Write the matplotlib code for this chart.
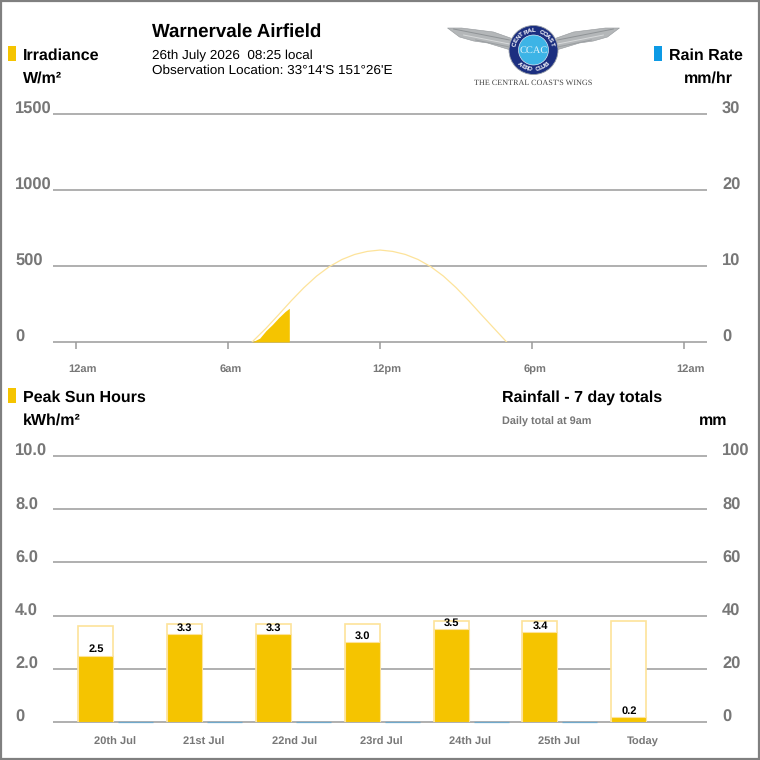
import numpy as np
import matplotlib
matplotlib.use('Agg')
import matplotlib.pyplot as plt
import matplotlib.patches as patches
import matplotlib.transforms as transforms

plt.rcParams['font.family'] = ['Liberation Sans', 'DejaVu Sans']
plt.rcParams['text.hinting'] = 'no_hinting'

YELLOW = '#f5c400'
PALE = '#fde39a'
BLUE = '#0d9ae5'
GREY = '#777777'
LINE = '#9a9a9a'

# irradiance, hours of the day against W/m2
clear_hours = [6.95, 7.5, 8.0, 8.5, 9.0, 9.5, 10.0, 10.5, 11.0, 11.5, 12.0, 12.5,
               13.0, 13.5, 14.0, 14.5, 15.0, 15.5, 16.0, 16.5, 17.0]
clear_wm2 = [0, 90, 180, 272, 358, 434, 496, 543, 576, 596, 605, 596,
             576, 543, 496, 434, 358, 272, 180, 90, 0]
now_hours = [6.95, 7.25, 7.5, 7.75, 8.0, 8.25, 8.42]
now_wm2 = [0, 25, 75, 115, 160, 200, 222]
hour_ticks = [0, 6, 12, 18, 24]
hour_labels = ['12am', '6am', '12pm', '6pm', '12am']
wm2_ticks = [0, 500, 1000, 1500]
rate_ticks = [0, 10, 20, 30]

# seven day totals, today has no rain figure yet
days = ['20th Jul', '21st Jul', '22nd Jul', '23rd Jul', '24th Jul', '25th Jul', 'Today']
sun_hours = [2.5, 3.3, 3.3, 3.0, 3.5, 3.4, 0.2]
clear_sun_hours = [3.6, 3.7, 3.7, 3.7, 3.8, 3.8, 3.8]
rain_mm = [0, 0, 0, 0, 0, 0, np.nan]
sun_ticks = [0, 2, 4, 6, 8, 10]
sun_tick_labels = ['0', '2.0', '4.0', '6.0', '8.0', '10.0']
mm_ticks = [0, 20, 40, 60, 80, 100]

W = 760
fig = plt.figure(figsize=(7.6, 7.6), dpi=100)


def px_axes(left, top, right, bottom):
    return fig.add_axes([left / W, 1 - bottom / W, (right - left) / W, (bottom - top) / W])


def shift(labels, dx, dy):
    for lab in labels:
        lab.set_transform(lab.get_transform() + transforms.Affine2D().translate(dx, dy))


def style_axes(ax, yticks, ylabels, ylim):
    ax.set_ylim(*ylim)
    ax.set_yticks(yticks, ylabels)
    ax.tick_params(axis='y', length=0, pad=0, labelsize=11.9, labelcolor=GREY)
    for lab in ax.get_yticklabels():
        lab.set_fontweight('bold')
        lab.set_ha('left')
    shift(ax.get_yticklabels(), -38, 6)
    ax.grid(axis='y', color=LINE, lw=1.1)
    for g in ax.get_ygridlines():
        g.set_clip_on(False)
        g.set_solid_capstyle('butt')
    ax.set_axisbelow(True)
    for s in ax.spines.values():
        s.set_visible(False)
    ax.patch.set_alpha(0)


def right_axis(ax, ticks, ylim):
    ax2 = ax.twinx()
    ax2.set_ylim(*ylim)
    ax2.set_yticks(ticks, [str(t) for t in ticks])
    ax2.tick_params(axis='y', length=0, pad=10.8, labelsize=11.9, labelcolor=GREY)
    for lab in ax2.get_yticklabels():
        lab.set_fontweight('bold')
    shift(ax2.get_yticklabels(), 0, 6)
    for s in ax2.spines.values():
        s.set_visible(False)
    ax2.patch.set_alpha(0)
    return ax2


# top chart
ax1 = px_axes(53, 114, 707, 342)
style_axes(ax1, wm2_ticks, [str(t) for t in wm2_ticks], (0, 1500))
ax1.set_xlim((53 - 76) / 25.333, (707 - 76) / 25.333)
ax1.fill_between(now_hours, now_wm2, 0, color=YELLOW, lw=0, zorder=3)
ax1.plot(clear_hours, clear_wm2, color=PALE, lw=0.9, zorder=4)
ax1.set_xticks(hour_ticks, hour_labels)
ax1.tick_params(axis='x', length=5, width=1.1, color=LINE, pad=11, labelsize=8, labelcolor=GREY)
for lab in ax1.get_xticklabels():
    lab.set_fontweight('bold')
    lab.set_ha('left')
shift(ax1.get_xticklabels(), -8, 0)
right_axis(ax1, rate_ticks, (0, 30))

# bottom chart
ax3 = px_axes(53, 456, 707, 722)
style_axes(ax3, sun_ticks, sun_tick_labels, (0, 10))
ax3.set_xlim((53 - 96) / 88.8, (707 - 96) / 88.8)
idx = np.arange(len(days))
bar_w = 35 / 88.8
ax3.bar(idx, clear_sun_hours, bar_w, facecolor='white', edgecolor=PALE, lw=1.2, zorder=3)
ax3.bar(idx, sun_hours, bar_w, facecolor=YELLOW, edgecolor=PALE, lw=0.8, zorder=4)
ax3.bar(idx + 40 / 88.8, rain_mm, bar_w, edgecolor='#6fa9cc', lw=0.9, zorder=4, clip_on=False)
for i, v in zip(idx, sun_hours):
    ax3.annotate(f'{v:.1f}', (i, v), xytext=(0, 0.6), textcoords='offset points', ha='center',
                 va='bottom', fontsize=8, fontweight='bold', color='black', zorder=6)
ax3.set_xticks(idx, days)
ax3.tick_params(axis='x', length=0, pad=16.5, labelsize=8, labelcolor=GREY)
for lab in ax3.get_xticklabels():
    lab.set_fontweight('bold')
    lab.set_ha('left')
    lab.set_va('baseline')
shift(ax3.get_xticklabels(), -2, 0)
right_axis(ax3, mm_ticks, (0, 100))

# everything else goes on a full page layer in pixel coordinates
page = fig.add_axes([0, 0, 1, 1], zorder=10)
page.set_xlim(0, W)
page.set_ylim(W, 0)
page.axis('off')
page.patch.set_alpha(0)
page.add_patch(patches.Rectangle((1, 1), W - 2, W - 2, fill=False, edgecolor='#808080', lw=1.6))


def label(x, y, s, size=11.5, weight='bold', color='black', **kw):
    page.text(x, y, s, fontsize=size, fontweight=weight, color=color, va='center', **kw)


page.add_patch(patches.Rectangle((8, 46), 8, 15, color=YELLOW, lw=0))
page.add_patch(patches.Rectangle((654, 46), 8, 15, color=BLUE, lw=0))
page.add_patch(patches.Rectangle((8, 388), 8, 15, color=YELLOW, lw=0))
label(23, 55.5, 'Irradiance')
label(23, 78.5, 'W/m²')
label(152, 32, 'Warnervale Airfield', size=13.5)
label(152, 56, '26th July 2026  08:25 local', size=9.7, weight='normal')
label(152, 71, "Observation Location: 33°14'S 151°26'E", size=9.7, weight='normal')
label(669, 55.5, 'Rain Rate')
label(684, 78.5, 'mm/hr')
label(23, 397.5, 'Peak Sun Hours')
label(23, 421, 'kWh/m²')
label(502, 397.5, 'Rainfall - 7 day totals')
label(502, 422, 'Daily total at 9am', size=7.8, color=GREY)
label(699, 421, 'mm')

# club badge: wings, roundel and strapline
cx, cy = 533.5, 50
for side in (-1, 1):
    wing = [(cx + side * x, cy + y) for x, y in
            [(23, -12), (40, -18), (56, -20), (72, -22), (86, -22), (74, -13), (60, -9), (46, -7), (23, 0)]]
    page.add_patch(patches.Polygon(wing, closed=True, facecolor='#b4b7b9', edgecolor='#94989b', lw=0.4))
    for x0, y0, x1, y1, shade in [(24, -10, 80, -21, '#8f9396'), (24, -6, 70, -15, '#d8dadb'),
                                  (24, -3, 58, -10, '#9a9ea1')]:
        page.plot([cx + side * x0, cx + side * x1], [cy + y0, cy + y1], color=shade, lw=0.7,
                  solid_capstyle='round')
page.add_patch(patches.Circle((cx, cy), 24.5, facecolor='#1c2f80', edgecolor='#9aa0a8', lw=0.6))
page.add_patch(patches.Circle((cx, cy), 15, facecolor='#3db4e6', edgecolor='white', lw=0.4))
page.text(cx, cy + 0.5, 'CCAC', fontsize=7.5, color='#dff3fb', ha='center', va='center',
          family='Liberation Serif')


def arc_text(s, radius, start, step, flip=False):
    for i, ch in enumerate(s):
        ang = np.radians(start + i * step)
        x = cx + radius * np.sin(ang)
        y = cy - radius * np.cos(ang)
        rot = -np.degrees(ang) + (180 if flip else 0)
        page.text(x, y, ch, fontsize=4.5, fontweight='bold', color='white', ha='center', va='center',
                  rotation=rot, rotation_mode='anchor')


arc_text('CENTRAL COAST', 19.5, -72, 12)
arc_text('AERO CLUB', 19.5, 224, -11, flip=True)
page.text(533.5, 83, "The Central Coast's Wings".upper(), fontsize=5.9, color='#444444',
          family='Liberation Serif', ha='center', va='center')

fig.savefig('out.png', dpi=100)
